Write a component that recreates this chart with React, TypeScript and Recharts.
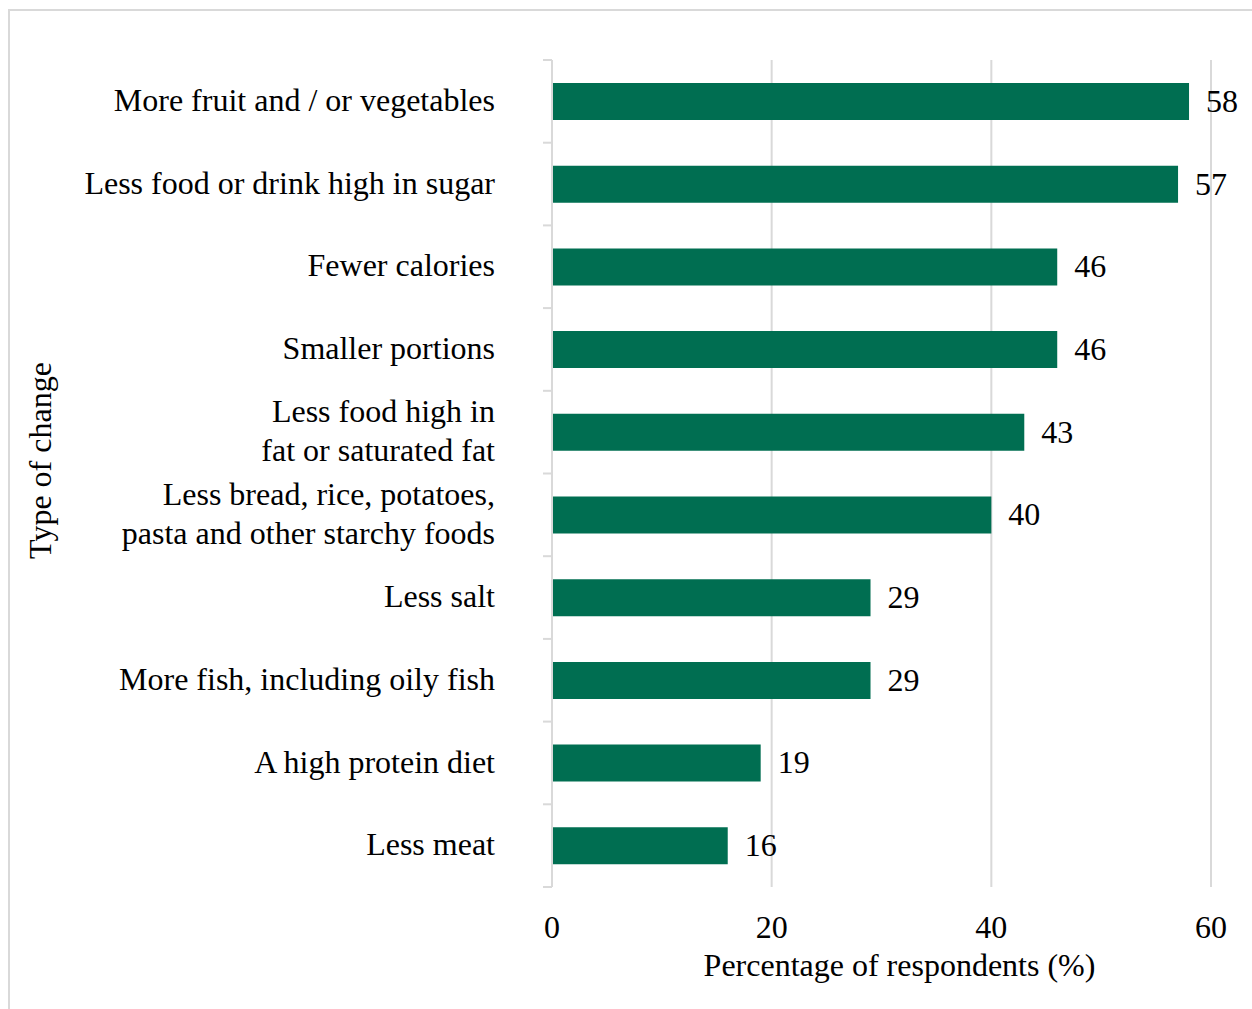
import React from 'react';
import { BarChart, Bar, XAxis, YAxis, CartesianGrid, LabelList } from 'recharts';

const categories = [
  'More fruit and / or vegetables',
  'Less food or drink high in sugar',
  'Fewer calories',
  'Smaller portions',
  'Less food high in\nfat or saturated fat',
  'Less bread, rice, potatoes,\npasta and other starchy foods',
  'Less salt',
  'More fish, including oily fish',
  'A high protein diet',
  'Less meat',
];
const values = [58, 57, 46, 46, 43, 40, 29, 29, 19, 16];
const xTicks = [0, 20, 40, 60];
const xTitle = 'Percentage of respondents (%)';
const yTitle = 'Type of change';

const data = categories.map((c, i) => ({ category: c, value: values[i] }));

const FONT = '"Liberation Serif", "Times New Roman", Times, serif';
const FS = 32;
const GRID = '#d9d9d9';
const BAR = '#006e51';

const CHART_W = 1250;
const CHART_H = 1000;
const MARGIN = { top: 49, right: 49, bottom: 24, left: 0 };
const Y_W = 542;
const X_H = 100;
const PLOT_H = CHART_H - MARGIN.top - MARGIN.bottom - X_H;
const BAND = PLOT_H / categories.length;
const AXIS_X = MARGIN.left + Y_W;
const LABEL_RIGHT = AXIS_X - 57;

function CategoryTick(props: any) {
  const { y, payload, index } = props;
  const lines = String(payload.value).split('\n');
  const lh = 39;
  const y0 = y - ((lines.length - 1) * lh) / 2;
  return (
    <g>
      <line x1={AXIS_X - 9} x2={AXIS_X} y1={y - BAND / 2} y2={y - BAND / 2} stroke={GRID} strokeWidth={2} />
      {index === categories.length - 1 && (
        <line x1={AXIS_X - 9} x2={AXIS_X} y1={y + BAND / 2} y2={y + BAND / 2} stroke={GRID} strokeWidth={2} />
      )}
      <text textAnchor="end" fontFamily={FONT} fontSize={FS} fill="#000">
        {lines.map((l, i) => (
          <tspan key={i} x={LABEL_RIGHT} y={y0 + i * lh} dy="0.3em">
            {l}
          </tspan>
        ))}
      </text>
    </g>
  );
}

function YTitle() {
  const cx = 30;
  const cy = MARGIN.top + PLOT_H / 2 - 13;
  return (
    <text
      x={cx}
      y={cy}
      transform={`rotate(-90, ${cx}, ${cy})`}
      textAnchor="middle"
      dominantBaseline="central"
      fontFamily={FONT}
      fontSize={FS}
      fill="#000"
    >
      {yTitle}
    </text>
  );
}

function XTitle() {
  const plotW = CHART_W - MARGIN.left - MARGIN.right - Y_W;
  const cx = AXIS_X + plotW / 2 + 18;
  const y = MARGIN.top + PLOT_H + 89;
  return (
    <text x={cx} y={y} textAnchor="middle" fontFamily={FONT} fontSize={FS} fill="#000">
      {xTitle}
    </text>
  );
}

export default function App() {
  return (
    <div style={{ position: 'fixed', left: 0, top: 0, width: 1252, height: 1009, overflow: 'hidden', background: '#fff' }}>
      <div
        style={{
          position: 'absolute',
          left: 8,
          top: 9,
          width: CHART_W,
          height: CHART_H + 20,
          border: `2px solid ${GRID}`,
          background: '#fff',
        }}
      >
        <BarChart width={CHART_W} height={CHART_H} data={data} layout="vertical" margin={MARGIN}>
          <CartesianGrid horizontal={false} vertical={true} stroke={GRID} strokeWidth={2} />
          <XAxis
            type="number"
            domain={[0, 60]}
            ticks={xTicks}
            axisLine={false}
            tickLine={false}
            tickSize={6}
            tickMargin={22}
            height={X_H}
            tick={{ fontSize: FS, fill: '#000', fontFamily: FONT }}
            label={{ content: () => <XTitle /> }}
          />
          <YAxis
            type="category"
            dataKey="category"
            width={Y_W}
            interval={0}
            axisLine={{ stroke: GRID, strokeWidth: 2 }}
            tickLine={false}
            tickSize={0}
            tickMargin={57}
            tick={<CategoryTick />}
            label={{ content: () => <YTitle /> }}
          />
          <Bar dataKey="value" fill={BAR} barSize={37} isAnimationActive={false}>
            <LabelList dataKey="value" position="right" offset={17} dy={-1} fontSize={FS} fill="#000" fontFamily={FONT} />
          </Bar>
        </BarChart>
      </div>
    </div>
  );
}
